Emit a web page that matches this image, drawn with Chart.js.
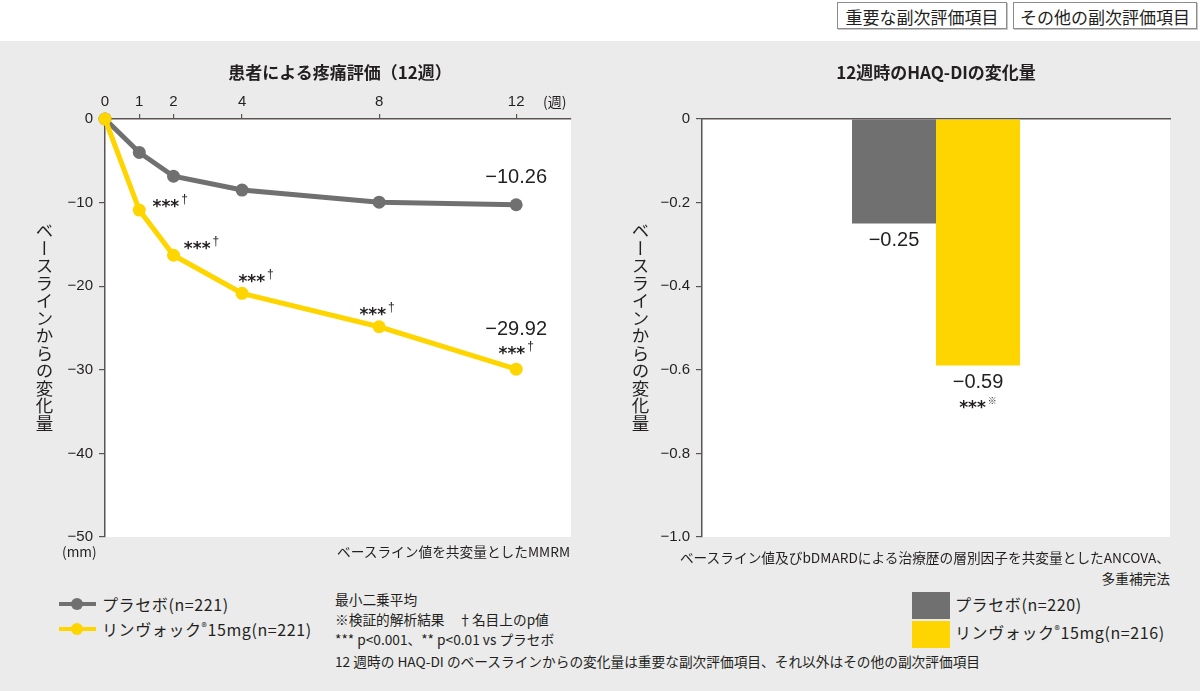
<!DOCTYPE html>
<html lang="ja">
<head>
<meta charset="utf-8">
<script src="https://cdn.jsdelivr.net/npm/chart.js@4.4.1/dist/chart.umd.min.js"></script>
<style>
html,body{margin:0;padding:0;}
body{width:1200px;height:691px;position:relative;overflow:hidden;background:#fff;font-family:"Noto Sans CJK JP","Noto Sans",sans-serif;color:#231f20;}
#band{position:absolute;left:0;top:41px;width:1200px;height:650px;background:#ebebeb;}
.badge{position:absolute;top:2px;height:27px;border:1px solid #8c8c8c;box-shadow:1px 1px 0 #c8c8c8;background:#fff;font-size:17px;line-height:27px;text-align:center;box-sizing:border-box;}
.abs{position:absolute;white-space:nowrap;}
.title{font-size:17px;font-weight:bold;text-align:center;line-height:22px;}
.vt{writing-mode:vertical-rl;text-orientation:upright;font-size:17.5px;line-height:20px;letter-spacing:0;}
.note{font-size:13.7px;line-height:18px;}
.leg{font-size:16px;line-height:20px;letter-spacing:0.6px;}
.leg sup{font-size:11px;vertical-align:5px;line-height:0;}
.lline{position:absolute;width:37px;height:4px;}
.ldot{position:absolute;width:12px;height:12px;border-radius:50%;}
.lsq{position:absolute;width:38px;}
canvas{position:absolute;}
</style>
</head>
<body>
<div id="band"></div>
<div class="badge" style="left:837px;width:170px;">重要な副次評価項目</div>
<div class="badge" style="left:1013px;width:184px;">その他の副次評価項目</div>

<canvas id="c1" width="600" height="520" style="left:0;top:42px;"></canvas>
<canvas id="c2" width="600" height="520" style="left:600px;top:42px;"></canvas>

<div class="abs title" style="left:105px;width:470px;top:61px;">患者による疼痛評価（12週）</div>
<div class="abs title" style="left:702px;width:468px;top:61px;">12週時のHAQ-DIの変化量</div>
<div class="abs" style="left:543px;top:91px;font-size:14px;line-height:20px;">(週)</div>

<div class="abs vt" style="left:34px;top:222px;">ベースラインからの変化量</div>
<div class="abs vt" style="left:630px;top:222px;">ベースラインからの変化量</div>

<div class="abs note" style="left:62px;top:542px;">(mm)</div>
<div class="abs note" style="right:630px;top:542px;">ベースライン値を共変量としたMMRM</div>
<div class="abs note" style="right:30px;top:548px;">ベースライン値及びbDMARDによる治療歴の層別因子を共変量としたANCOVA、</div>
<div class="abs note" style="right:30px;top:569px;">多重補完法</div>

<div class="lline" style="left:59px;top:602px;background:#707070;"></div>
<div class="ldot" style="left:71px;top:598px;background:#707070;"></div>
<div class="abs leg" style="left:102px;top:594px;">プラセボ(n=221)</div>
<div class="lline" style="left:59px;top:627px;background:#ffd500;"></div>
<div class="ldot" style="left:71px;top:623px;background:#ffd500;"></div>
<div class="abs leg" style="left:102px;top:619px;">リンヴォック<sup>®</sup>15mg(n=221)</div>

<div class="abs note" style="left:335px;top:590px;">最小二乗平均</div>
<div class="abs note" style="left:335px;top:610px;">※検証的解析結果　†名目上のp値</div>
<div class="abs note" style="left:335px;top:630px;">*** p&lt;0.001、** p&lt;0.01 vs プラセボ</div>
<div class="abs note" style="left:335px;top:652px;">12 週時の HAQ-DI のベースラインからの変化量は重要な副次評価項目、それ以外はその他の副次評価項目</div>

<div class="lsq" style="left:912px;top:592px;height:27px;background:#707070;"></div>
<div class="abs leg" style="left:955px;top:594px;">プラセボ(n=220)</div>
<div class="lsq" style="left:912px;top:621px;height:27px;background:#ffd500;"></div>
<div class="abs leg" style="left:955px;top:622px;">リンヴォック<sup>®</sup>15mg(n=216)</div>

<script>
// ---- data ----
const weeks = [0, 1, 2, 4, 8, 12];
const placeboPain = [0, -4.0, -6.85, -8.5, -9.95, -10.26];
const rinvoqPain = [0, -10.9, -16.3, -20.85, -24.85, -29.92];
const painSig = ['', '***', '***', '***', '***', '***'];
const painSigSup = '†';
const painYTicks = [0, -10, -20, -30, -40, -50];
const haqGroups = ['プラセボ(n=220)', 'リンヴォック®15mg(n=216)'];
const haqValues = [-0.25, -0.59];
const haqSig = ['', '***'];
const haqSigSup = '※';
const haqYTicks = [0, -0.2, -0.4, -0.6, -0.8, -1.0];

const GRAY = '#707070';
const YEL = '#ffd500';
const AXIS = '#5a5553';
const TXT = '#231f20';
const NUMFONT = '"Liberation Sans", Arial, sans-serif';
const STARFONT = '"DejaVu Sans", sans-serif';

function minus(v, d) { return v === 0 ? '0' : (v < 0 ? '\u2212' : '') + Math.abs(v).toFixed(d); }

const whiteArea = {
  id: 'whiteArea',
  beforeDraw(chart) {
    const a = chart.chartArea, c = chart.ctx;
    c.save(); c.fillStyle = '#fff'; c.fillRect(a.left, a.top, a.right - a.left, a.bottom - a.top); c.restore();
  }
};

function drawSig(c, cx, cy, stars, sup, supFont) {
  c.save();
  c.fillStyle = TXT;
  c.font = 'bold 17px ' + STARFONT;
  const w1 = c.measureText(stars).width;
  c.font = supFont;
  const w2 = c.measureText(sup).width;
  const x0 = cx - (w1 + w2 + 2) / 2;
  c.textAlign = 'left'; c.textBaseline = 'alphabetic';
  c.font = 'bold 17px ' + STARFONT;
  c.fillText(stars, x0, cy + 10);
  c.font = supFont;
  c.fillText(sup, x0 + w1 + 2, cy + 1);
  c.restore();
}

const painLabels = {
  id: 'painLabels',
  afterDatasetsDraw(chart) {
    const c = chart.ctx;
    const yMeta = chart.getDatasetMeta(0).data;
    const gMeta = chart.getDatasetMeta(1).data;
    const offs = [[0, 0], [31, -8], [28, -11], [14, -16], [-2, -17], [0, -20]];
    yMeta.forEach((p, i) => {
      if (painSig[i]) drawSig(c, p.x + offs[i][0], p.y + offs[i][1], painSig[i], painSigSup, '12px ' + NUMFONT);
    });
    c.save();
    c.fillStyle = TXT; c.font = '20px ' + NUMFONT; c.textAlign = 'center'; c.textBaseline = 'middle';
    const gl = gMeta[gMeta.length - 1], yl = yMeta[yMeta.length - 1];
    c.fillText(minus(placeboPain[placeboPain.length - 1], 2), gl.x, gl.y - 27);
    c.fillText(minus(rinvoqPain[rinvoqPain.length - 1], 2), yl.x, yl.y - 40);
    c.restore();
  }
};

const haqLabels = {
  id: 'haqLabels',
  afterDatasetsDraw(chart) {
    const c = chart.ctx;
    haqValues.forEach((v, i) => {
      const b = chart.getDatasetMeta(i).data[0];
      c.save();
      c.fillStyle = TXT; c.font = '20px ' + NUMFONT; c.textAlign = 'center'; c.textBaseline = 'middle';
      c.fillText(minus(v, 2), b.x, b.y + 17);
      c.restore();
      if (haqSig[i]) drawSig(c, b.x, b.y + 37, haqSig[i], haqSigSup, '9px "Noto Sans CJK JP", sans-serif');
    });
  }
};

const tickFont = { size: 15, family: NUMFONT };

new Chart(document.getElementById('c1'), {
  type: 'line',
  data: {
    datasets: [
      { label: 'リンヴォック®15mg(n=221)', data: weeks.map((w, i) => ({ x: w, y: rinvoqPain[i] })),
        borderColor: YEL, backgroundColor: YEL, borderWidth: 5, pointRadius: 6.5, pointHoverRadius: 6.5,
        pointBorderWidth: 0, order: 0, clip: false, tension: 0 },
      { label: 'プラセボ(n=221)', data: weeks.map((w, i) => ({ x: w, y: placeboPain[i] })),
        borderColor: GRAY, backgroundColor: GRAY, borderWidth: 5, pointRadius: 6.5, pointHoverRadius: 6.5,
        pointBorderWidth: 0, order: 1, clip: false, tension: 0 }
    ]
  },
  options: {
    responsive: false, animation: false, events: [],
    layout: { padding: { left: 0, top: 0, right: 29, bottom: 25 } },
    plugins: { legend: { display: false }, tooltip: { enabled: false } },
    scales: {
      x: {
        type: 'linear', position: 'top', min: 0, max: 13.6,
        afterBuildTicks: s => { s.ticks = weeks.map(v => ({ value: v })); },
        afterFit: s => { s.height = 77; },
        grid: { drawOnChartArea: false, drawTicks: true, tickLength: 5, color: AXIS, lineWidth: 1.2 },
        border: { color: AXIS, width: 1.5 },
        ticks: { font: tickFont, color: TXT, padding: 3, maxRotation: 0, autoSkip: false }
      },
      y: {
        min: -50, max: 0,
        afterBuildTicks: s => { s.ticks = painYTicks.map(v => ({ value: v })); },
        afterFit: s => { s.width = 105; },
        grid: { drawOnChartArea: false, drawTicks: true, tickLength: 6, color: AXIS, lineWidth: 1.2 },
        border: { color: AXIS, width: 1.5 },
        ticks: { font: tickFont, color: TXT, padding: 6, callback: v => minus(v, 0) }
      }
    }
  },
  plugins: [whiteArea, painLabels]
});

new Chart(document.getElementById('c2'), {
  type: 'bar',
  data: {
    labels: ['12週'],
    datasets: [
      { label: haqGroups[0], data: [haqValues[0]], backgroundColor: GRAY, borderWidth: 0 },
      { label: haqGroups[1], data: [haqValues[1]], backgroundColor: YEL, borderWidth: 0 }
    ]
  },
  options: {
    responsive: false, animation: false, events: [],
    categoryPercentage: 0.359, barPercentage: 1,
    layout: { padding: { left: 0, top: 0, right: 30, bottom: 25 } },
    plugins: { legend: { display: false }, tooltip: { enabled: false } },
    scales: {
      x: {
        position: 'top',
        afterFit: s => { s.height = 77; },
        grid: { display: false },
        border: { color: AXIS, width: 1.5 },
        ticks: { display: false }
      },
      y: {
        min: -1, max: 0,
        afterBuildTicks: s => { s.ticks = haqYTicks.map(v => ({ value: v })); },
        afterFit: s => { s.width = 102; },
        grid: { drawOnChartArea: false, drawTicks: true, tickLength: 6, color: AXIS, lineWidth: 1.2 },
        border: { color: AXIS, width: 1.5 },
        ticks: { font: tickFont, color: TXT, padding: 6, callback: v => minus(v, 1) }
      }
    }
  },
  plugins: [whiteArea, haqLabels]
});
</script>
</body>
</html>
